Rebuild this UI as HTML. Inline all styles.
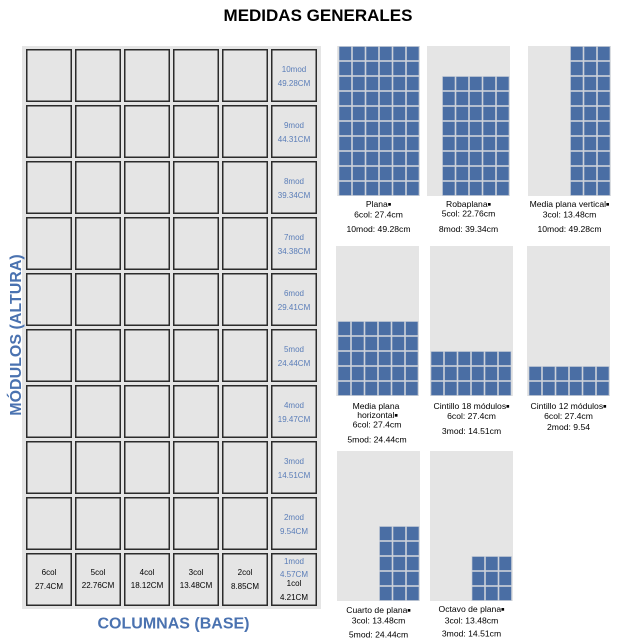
<!DOCTYPE html>
<html><head><meta charset="utf-8"><style>
html,body{margin:0;padding:0;background:#fff;}
svg{display:block;}
text{font-family:"Liberation Sans",Arial,sans-serif;}
</style></head><body>
<svg width="627" height="643" viewBox="0 0 627 643" xmlns="http://www.w3.org/2000/svg">
<defs>
<pattern id="p" patternUnits="userSpaceOnUse" x="0" y="0" width="13.5" height="15">
<rect x="0" y="0" width="13.5" height="15" fill="#cdd2da"/>
<rect x="0.8" y="0.8" width="11.9" height="13.4" fill="#4a6ea4"/>
</pattern>
</defs>
<rect width="627" height="643" fill="#fff"/>
<text x="318" y="21" text-anchor="middle" font-size="17" font-weight="bold" fill="#000">MEDIDAS GENERALES</text>

<!-- left grid -->
<rect x="22" y="46" width="299" height="563" fill="#e5e5e5"/>
<g fill="#e5e5e5" stroke="#2b2b2b" stroke-width="1.5">
<rect x="26.75" y="49.75" width="44.5" height="51.5"/><rect x="75.75" y="49.75" width="44.5" height="51.5"/><rect x="124.75" y="49.75" width="44.5" height="51.5"/><rect x="173.75" y="49.75" width="44.5" height="51.5"/><rect x="222.75" y="49.75" width="44.5" height="51.5"/><rect x="271.75" y="49.75" width="44.5" height="51.5"/>
<rect x="26.75" y="105.75" width="44.5" height="51.5"/><rect x="75.75" y="105.75" width="44.5" height="51.5"/><rect x="124.75" y="105.75" width="44.5" height="51.5"/><rect x="173.75" y="105.75" width="44.5" height="51.5"/><rect x="222.75" y="105.75" width="44.5" height="51.5"/><rect x="271.75" y="105.75" width="44.5" height="51.5"/>
<rect x="26.75" y="161.75" width="44.5" height="51.5"/><rect x="75.75" y="161.75" width="44.5" height="51.5"/><rect x="124.75" y="161.75" width="44.5" height="51.5"/><rect x="173.75" y="161.75" width="44.5" height="51.5"/><rect x="222.75" y="161.75" width="44.5" height="51.5"/><rect x="271.75" y="161.75" width="44.5" height="51.5"/>
<rect x="26.75" y="217.75" width="44.5" height="51.5"/><rect x="75.75" y="217.75" width="44.5" height="51.5"/><rect x="124.75" y="217.75" width="44.5" height="51.5"/><rect x="173.75" y="217.75" width="44.5" height="51.5"/><rect x="222.75" y="217.75" width="44.5" height="51.5"/><rect x="271.75" y="217.75" width="44.5" height="51.5"/>
<rect x="26.75" y="273.75" width="44.5" height="51.5"/><rect x="75.75" y="273.75" width="44.5" height="51.5"/><rect x="124.75" y="273.75" width="44.5" height="51.5"/><rect x="173.75" y="273.75" width="44.5" height="51.5"/><rect x="222.75" y="273.75" width="44.5" height="51.5"/><rect x="271.75" y="273.75" width="44.5" height="51.5"/>
<rect x="26.75" y="329.75" width="44.5" height="51.5"/><rect x="75.75" y="329.75" width="44.5" height="51.5"/><rect x="124.75" y="329.75" width="44.5" height="51.5"/><rect x="173.75" y="329.75" width="44.5" height="51.5"/><rect x="222.75" y="329.75" width="44.5" height="51.5"/><rect x="271.75" y="329.75" width="44.5" height="51.5"/>
<rect x="26.75" y="385.75" width="44.5" height="51.5"/><rect x="75.75" y="385.75" width="44.5" height="51.5"/><rect x="124.75" y="385.75" width="44.5" height="51.5"/><rect x="173.75" y="385.75" width="44.5" height="51.5"/><rect x="222.75" y="385.75" width="44.5" height="51.5"/><rect x="271.75" y="385.75" width="44.5" height="51.5"/>
<rect x="26.75" y="441.75" width="44.5" height="51.5"/><rect x="75.75" y="441.75" width="44.5" height="51.5"/><rect x="124.75" y="441.75" width="44.5" height="51.5"/><rect x="173.75" y="441.75" width="44.5" height="51.5"/><rect x="222.75" y="441.75" width="44.5" height="51.5"/><rect x="271.75" y="441.75" width="44.5" height="51.5"/>
<rect x="26.75" y="497.75" width="44.5" height="51.5"/><rect x="75.75" y="497.75" width="44.5" height="51.5"/><rect x="124.75" y="497.75" width="44.5" height="51.5"/><rect x="173.75" y="497.75" width="44.5" height="51.5"/><rect x="222.75" y="497.75" width="44.5" height="51.5"/><rect x="271.75" y="497.75" width="44.5" height="51.5"/>
<rect x="26.75" y="553.75" width="44.5" height="51.5"/><rect x="75.75" y="553.75" width="44.5" height="51.5"/><rect x="124.75" y="553.75" width="44.5" height="51.5"/><rect x="173.75" y="553.75" width="44.5" height="51.5"/><rect x="222.75" y="553.75" width="44.5" height="51.5"/><rect x="271.75" y="553.75" width="44.5" height="51.5"/>
</g>
<g font-size="8" fill="#5a7db8" text-anchor="middle">
<text x="294" y="72">10mod</text><text x="294" y="86">49.28CM</text>
<text x="294" y="128">9mod</text><text x="294" y="142">44.31CM</text>
<text x="294" y="184">8mod</text><text x="294" y="198">39.34CM</text>
<text x="294" y="240">7mod</text><text x="294" y="254">34.38CM</text>
<text x="294" y="296">6mod</text><text x="294" y="310">29.41CM</text>
<text x="294" y="352">5mod</text><text x="294" y="366">24.44CM</text>
<text x="294" y="408">4mod</text><text x="294" y="422">19.47CM</text>
<text x="294" y="464">3mod</text><text x="294" y="478">14.51CM</text>
<text x="294" y="520">2mod</text><text x="294" y="534">9.54CM</text>
<text x="294" y="564">1mod</text><text x="294" y="577">4.57CM</text>
</g>
<g font-size="8" fill="#000" text-anchor="middle">
<text x="294" y="586">1col</text><text x="294" y="600">4.21CM</text>
<text x="49" y="575">6col</text><text x="49" y="589">27.4CM</text>
<text x="98" y="575">5col</text><text x="98" y="588">22.76CM</text>
<text x="147" y="575">4col</text><text x="147" y="588">18.12CM</text>
<text x="196" y="575">3col</text><text x="196" y="588">13.48CM</text>
<text x="245" y="575">2col</text><text x="245" y="589">8.85CM</text>
</g>
<text x="173.5" y="628.5" text-anchor="middle" font-size="16" font-weight="bold" fill="#4a72b0">COLUMNAS (BASE)</text>
<text transform="translate(21,335) rotate(-90)" text-anchor="middle" font-size="16" font-weight="bold" fill="#4a72b0">MÓDULOS (ALTURA)</text>

<!-- right panels -->
<g fill="#e5e5e5">
<rect x="337" y="46" width="83" height="150"/>
<rect x="427" y="46" width="83" height="150"/>
<rect x="528" y="46" width="83" height="150"/>
<rect x="336" y="246" width="83" height="150"/>
<rect x="430" y="246" width="83" height="150"/>
<rect x="527" y="246" width="83" height="150"/>
<rect x="337" y="451" width="83" height="150"/>
<rect x="430" y="451" width="83" height="150"/>
</g>
<g fill="url(#p)">
<rect transform="translate(338.5,46)" width="81" height="150"/>
<rect transform="translate(442,76)" width="67.5" height="120"/>
<rect transform="translate(570,46)" width="40.5" height="150"/>
<rect transform="translate(337.5,321)" width="81" height="75"/>
<rect transform="translate(430.5,351)" width="81" height="45"/>
<rect transform="translate(528.5,366)" width="81" height="30"/>
<rect transform="translate(379,526)" width="40.5" height="75"/>
<rect transform="translate(471.5,556)" width="40.5" height="45"/>
</g>
<g font-size="8.6" fill="#000" text-anchor="middle">
<text x="378.5" y="207">Plana<tspan font-size="5.5" dy="-0.8">■</tspan></text>
<text x="378.5" y="217.4">6col: 27.4cm</text>
<text x="378.5" y="232">10mod: 49.28cm</text>
<text x="468.5" y="207">Robaplana<tspan font-size="5.5" dy="-0.8">■</tspan></text>
<text x="468.5" y="216.5">5col: 22.76cm</text>
<text x="468.5" y="232">8mod: 39.34cm</text>
<text x="569.5" y="207">Media plana vertical<tspan font-size="5.5" dy="-0.8">■</tspan></text>
<text x="569.5" y="217.4">3col: 13.48cm</text>
<text x="569.5" y="232">10mod: 49.28cm</text>
<text x="376" y="409">Media plana</text>
<text x="377.5" y="418">horizontal<tspan font-size="5.5" dy="-0.8">■</tspan></text>
<text x="377" y="427.5">6col: 27.4cm</text>
<text x="377" y="442.5">5mod: 24.44cm</text>
<text x="471.5" y="409">Cintillo 18 módulos<tspan font-size="5.5" dy="-0.8">■</tspan></text>
<text x="471.5" y="419">6col: 27.4cm</text>
<text x="471.5" y="434">3mod: 14.51cm</text>
<text x="568.5" y="409">Cintillo 12 módulos<tspan font-size="5.5" dy="-0.8">■</tspan></text>
<text x="568.5" y="419">6col: 27.4cm</text>
<text x="568.5" y="430">2mod: 9.54</text>
<text x="378.5" y="613">Cuarto de plana<tspan font-size="5.5" dy="-0.8">■</tspan></text>
<text x="378.5" y="623.5">3col: 13.48cm</text>
<text x="378.5" y="637.5">5mod: 24.44cm</text>
<text x="471.5" y="612">Octavo de plana<tspan font-size="5.5" dy="-0.8">■</tspan></text>
<text x="471.5" y="623.5">3col: 13.48cm</text>
<text x="471.5" y="636.5">3mod: 14.51cm</text>
</g>
</svg>
</body></html>
